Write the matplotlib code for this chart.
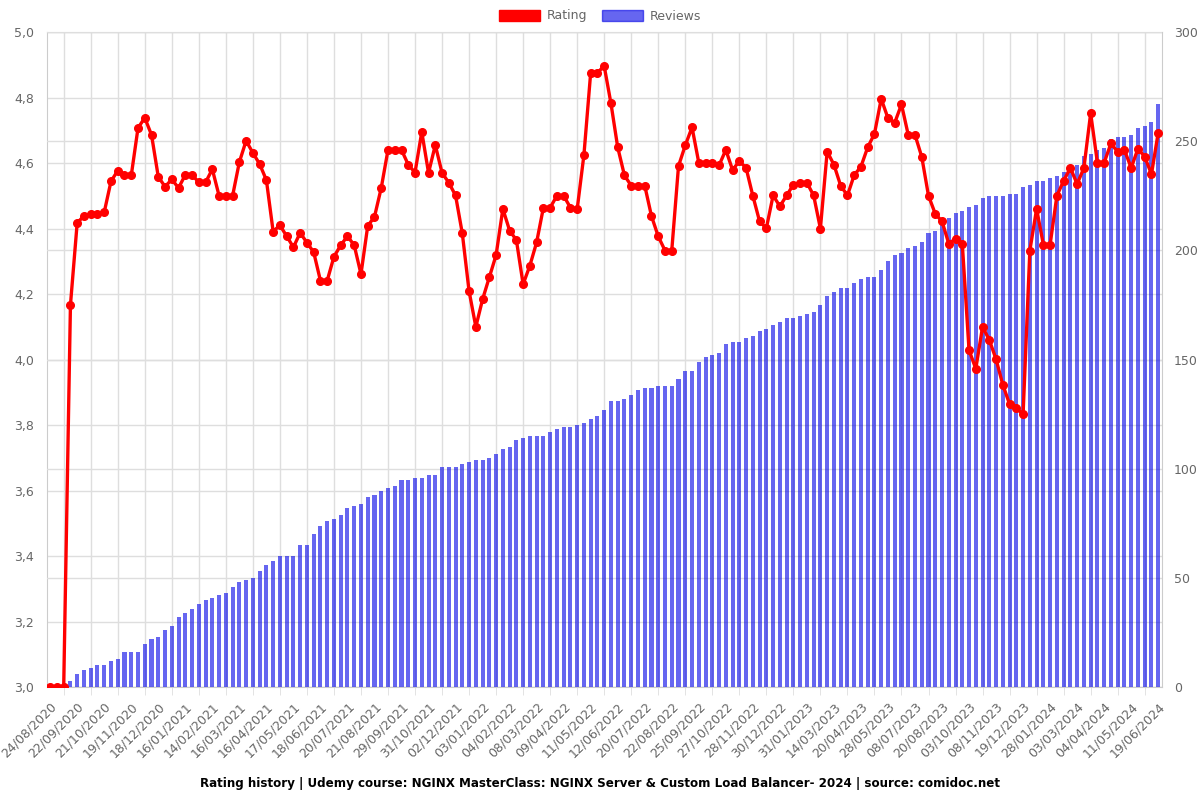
import numpy as np
import matplotlib
matplotlib.use('Agg')
import matplotlib.pyplot as plt
from matplotlib.patches import Patch
from matplotlib.ticker import FixedLocator, FuncFormatter, MultipleLocator


# labels shown under every 4th point (roughly weekly samples)
tick_labels = ['24/08/2020', '22/09/2020', '21/10/2020', '19/11/2020', '18/12/2020',
               '16/01/2021', '14/02/2021', '16/03/2021', '16/04/2021', '17/05/2021',
               '18/06/2021', '20/07/2021', '21/08/2021', '29/09/2021', '31/10/2021',
               '02/12/2021', '03/01/2022', '04/02/2022', '08/03/2022', '09/04/2022',
               '11/05/2022', '12/06/2022', '20/07/2022', '22/08/2022', '25/09/2022',
               '27/10/2022', '28/11/2022', '30/12/2022', '31/01/2023', '14/03/2023',
               '20/04/2023', '28/05/2023', '08/07/2023', '20/08/2023', '03/10/2023',
               '08/11/2023', '19/12/2023', '28/01/2024', '03/03/2024', '04/04/2024',
               '11/05/2024', '19/06/2024']

rating = [3.0, 3.0, 3.0, 4.167, 4.418, 4.438, 4.444, 4.444, 4.45, 4.544,
          4.577, 4.562, 4.562, 4.707, 4.738, 4.686, 4.558, 4.528, 4.55, 4.524,
          4.564, 4.564, 4.541, 4.541, 4.581, 4.5, 4.5, 4.5, 4.603, 4.668,
          4.631, 4.597, 4.548, 4.391, 4.41, 4.377, 4.343, 4.387, 4.357, 4.328,
          4.241, 4.241, 4.314, 4.349, 4.377, 4.349, 4.261, 4.408, 4.436, 4.524,
          4.64, 4.64, 4.64, 4.595, 4.571, 4.695, 4.57, 4.655, 4.57, 4.54,
          4.501, 4.385, 4.209, 4.1, 4.184, 4.251, 4.319, 4.46, 4.394, 4.365,
          4.23, 4.287, 4.358, 4.464, 4.464, 4.5, 4.5, 4.464, 4.459, 4.625,
          4.876, 4.876, 4.896, 4.782, 4.648, 4.562, 4.531, 4.531, 4.531, 4.438,
          4.376, 4.333, 4.333, 4.591, 4.654, 4.709, 4.601, 4.601, 4.601, 4.593,
          4.64, 4.579, 4.606, 4.585, 4.5, 4.422, 4.401, 4.501, 4.468, 4.501,
          4.534, 4.54, 4.54, 4.501, 4.4, 4.635, 4.595, 4.531, 4.501, 4.563,
          4.589, 4.648, 4.689, 4.796, 4.737, 4.723, 4.779, 4.686, 4.686, 4.619,
          4.5, 4.445, 4.422, 4.354, 4.369, 4.354, 4.029, 3.972, 4.1, 4.06,
          4.001, 3.923, 3.864, 3.851, 3.834, 4.333, 4.46, 4.351, 4.351, 4.5,
          4.546, 4.585, 4.536, 4.585, 4.752, 4.601, 4.601, 4.66, 4.634, 4.64,
          4.585, 4.644, 4.619, 4.566, 4.693]

reviews = [0, 0, 0, 3, 6, 8, 9, 10, 10, 12,
           13, 16, 16, 16, 20, 22, 23, 26, 28, 32,
           34, 36, 38, 40, 41, 42, 43, 46, 48, 49,
           50, 53, 56, 58, 60, 60, 60, 65, 65, 70,
           74, 76, 77, 79, 82, 83, 84, 87, 88, 90,
           91, 92, 95, 95, 96, 96, 97, 97, 101, 101,
           101, 102, 103, 104, 104, 105, 107, 109, 110, 113,
           114, 115, 115, 115, 117, 118, 119, 119, 120, 121,
           123, 124, 127, 131, 131, 132, 134, 136, 137, 137,
           138, 138, 138, 141, 145, 145, 149, 151, 152, 153,
           157, 158, 158, 160, 161, 163, 164, 166, 167, 169,
           169, 170, 171, 172, 175, 179, 181, 183, 183, 185,
           187, 188, 188, 191, 195, 198, 199, 201, 202, 204,
           208, 209, 213, 215, 217, 218, 220, 221, 224, 225,
           225, 225, 226, 226, 229, 230, 232, 232, 233, 234,
           236, 237, 239, 243, 244, 246, 247, 251, 252, 252,
           253, 256, 257, 259, 267]

x = np.arange(len(rating))
grid_col = '#dedede'
txt_col = '#666666'

fig = plt.figure(figsize=(12, 8), dpi=100)
ax = fig.add_axes([0.039, 0.141, 0.929, 0.819])
axb = ax.twinx()
axl = ax.twinx()

# bottom axis: rating scale + grids
ax.set_xlim(-0.5, len(x) - 0.5)
ax.set_ylim(3.0, 5.0)
ax.yaxis.set_major_locator(MultipleLocator(0.2))
ax.yaxis.set_major_formatter(FuncFormatter(lambda v, p: f'{v:.1f}'.replace('.', ',')))
ax.set_xticks(x[::4])
ax.set_xticklabels(tick_labels, rotation=45, ha='right', rotation_mode='anchor')
ax.xaxis.set_minor_locator(FixedLocator(np.arange(2, len(x) - 1, 4)))
ax.tick_params(axis='x', which='major', length=0, pad=9, labelsize=9, labelcolor=txt_col)
ax.tick_params(axis='x', which='minor', length=6, color=grid_col)
ax.tick_params(axis='y', length=0, pad=9, labelsize=9, labelcolor=txt_col)
ax.grid(True, axis='y', color=grid_col, lw=1)
ax.grid(True, axis='x', which='minor', color=grid_col, lw=1)
for s in ax.spines.values():
    s.set_color('#cccccc')

# reviews bars
axb.bar(x, reviews, width=0.6, color='#0000e6', alpha=0.6, zorder=2)
axb.set_ylim(0, 300)
axb.yaxis.set_major_locator(MultipleLocator(50))
axb.tick_params(axis='y', length=0, pad=9, labelsize=9, labelcolor=txt_col)
axb.grid(True, axis='y', color=grid_col, lw=1, zorder=0)
axb.set_axisbelow(True)
for s in axb.spines.values():
    s.set_visible(False)

# rating line on top
axl.plot(x, rating, color='#ff0000', lw=2.4, marker='o', ms=5.5, clip_on=True)
axl.set_ylim(3.0, 5.0)
axl.yaxis.set_visible(False)
for s in axl.spines.values():
    s.set_visible(False)

fig.legend(handles=[Patch(color='#ff0000', label='Rating'),
                    Patch(color='#0000e6', alpha=0.6, label='Reviews')],
           loc='center', bbox_to_anchor=(0.5, 0.98), ncol=2, frameon=False,
           fontsize=9, handlelength=3.3, handleheight=1.0, columnspacing=1.2,
           handletextpad=0.5, labelcolor=txt_col)

fig.text(0.5, 1 - 783 / 800,
         'Rating history | Udemy course: NGINX MasterClass: NGINX Server & Custom Load Balancer- 2024 | source: comidoc.net',
         ha='center', va='center', fontsize=8.6, fontweight='bold')

fig.savefig('out.png', dpi=100)
